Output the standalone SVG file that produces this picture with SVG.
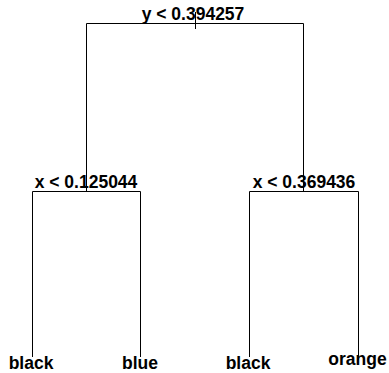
<svg xmlns="http://www.w3.org/2000/svg" width="389" height="373" viewBox="0 0 389 373">
  <style>
    .edge { stroke: #000; stroke-width: 1; fill: none; }
    .lbl { font-family: "Liberation Sans", Arial, sans-serif; font-weight: bold; font-size: 17.5px; fill: #000; text-anchor: middle; }
  </style>
  <rect width="389" height="373" fill="#fff"/>
  <g id="connectors">
    <!-- root stem and split -->
    <path class="edge" d="M195.5 12 V29"/>
    <path class="edge" d="M86.5 191 V23.5 H303.5 V191"/>
    <!-- left split -->
    <path class="edge" d="M32.5 357 V191.5 H140.5 V357"/>
    <!-- right split -->
    <path class="edge" d="M249.5 357 V191.5 H358.5 V360"/>
  </g>
  <g id="node-root">
    <text class="lbl" x="193" y="20">y &lt; 0.394257</text>
  </g>
  <g id="node-left">
    <text class="lbl" x="86" y="188">x &lt; 0.125044</text>
  </g>
  <g id="node-right">
    <text class="lbl" x="304" y="188">x &lt; 0.369436</text>
  </g>
  <g id="leaf-1">
    <text class="lbl" x="31" y="369">black</text>
  </g>
  <g id="leaf-2">
    <text class="lbl" x="140" y="369">blue</text>
  </g>
  <g id="leaf-3">
    <text class="lbl" x="248" y="369">black</text>
  </g>
  <g id="leaf-4">
    <text class="lbl" x="357.5" y="365">orange</text>
  </g>
</svg>
